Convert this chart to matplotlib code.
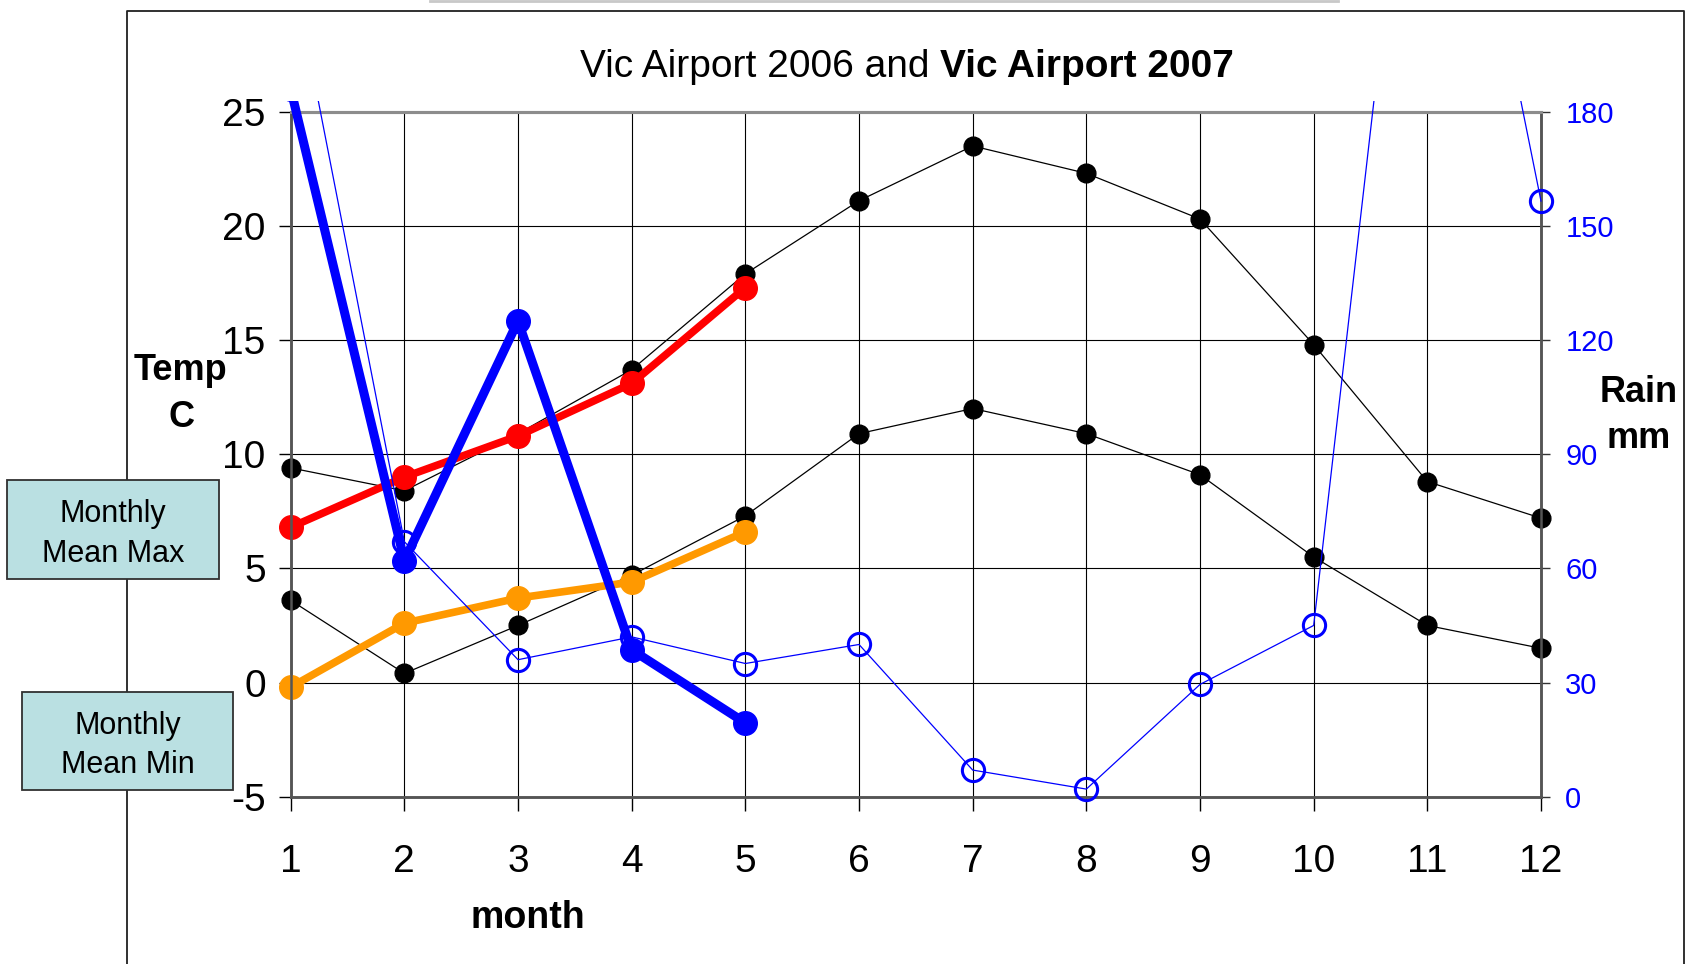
import matplotlib
matplotlib.use("Agg")
import matplotlib.pyplot as plt
from matplotlib.lines import Line2D
from matplotlib.patches import Rectangle

plt.rcParams['font.family'] = ['Liberation Sans', 'DejaVu Sans']
plt.rcParams['axes.unicode_minus'] = False

# data
months = [1, 2, 3, 4, 5, 6, 7, 8, 9, 10, 11, 12]
months_2007 = [1, 2, 3, 4, 5]
max_2006 = [9.4, 8.4, 10.9, 13.7, 17.9, 21.1, 23.5, 22.3, 20.3, 14.8, 8.8, 7.2]
min_2006 = [3.6, 0.4, 2.5, 4.7, 7.3, 10.9, 12.0, 10.9, 9.1, 5.5, 2.5, 1.5]
max_2007 = [6.8, 9.0, 10.8, 13.1, 17.3]
min_2007 = [-0.2, 2.6, 3.7, 4.4, 6.6]
rain_2006 = [220, 67, 36, 42, 35, 40, 7, 2, 29.5, 45, 305, 156.5]
rain_2007 = [186, 62, 125, 38.6, 19.4]

temp_ticks = [-5, 0, 5, 10, 15, 20, 25]
rain_ticks = [0, 30, 60, 90, 120, 150, 180]

W, H = 1691, 964


def fx(x):
    return x / W


def fy(y):
    return 1 - y / H


fig = plt.figure(figsize=(W / 100, H / 100), dpi=100)

# outer chart frame (goes off the bottom of the picture)
fig.add_artist(Line2D([fx(127), fx(127), fx(1684), fx(1684)],
                      [fy(970), fy(10.5), fy(10.5), fy(970)],
                      transform=fig.transFigure, color='#202020', lw=1.3, zorder=0))
fig.add_artist(Line2D([fx(430), fx(1338)], [fy(1), fy(1)],
                      transform=fig.transFigure, color='#c8c8c8', lw=2, zorder=0))

ax = fig.add_axes([fx(290.7), fy(796.7), (1541 - 290.7) / W, (796.7 - 111.7) / H])
ax.set_xlim(1, 12)
ax.set_ylim(-5, 25)
ax2 = ax.twinx()
ax2.set_ylim(0, 180)

ax.set_xticks(months)
ax.set_yticks(temp_ticks)
ax2.set_yticks(rain_ticks)
ax.grid(True, color='black', lw=0.8)
ax.set_axisbelow(True)

ax.tick_params(axis='x', direction='out', length=10, width=1, labelsize=28, pad=24, colors='black')
ax.tick_params(axis='y', direction='out', length=9, width=1, labelsize=28, pad=9, colors='black')
ax2.tick_params(axis='y', direction='out', length=6.5, width=1, labelsize=21, pad=11,
                colors='#333333', labelcolor='#0000ff')

for a in (ax, ax2):
    for side in ('left', 'right', 'bottom'):
        a.spines[side].set_color('#555555')
        a.spines[side].set_linewidth(1.8)
    a.spines['top'].set_color('#8c8c8c')
    a.spines['top'].set_linewidth(2.2)

# lines may run a little above the plot area, like the original
clip1 = Rectangle((-0.03, -0.03), 1.06, 1.046, transform=ax.transAxes)
clip2 = Rectangle((-0.03, -0.03), 1.06, 1.046, transform=ax2.transAxes)

lines = []
lines += ax.plot(months, max_2006, color='black', lw=0.9, marker='o', ms=13.5, zorder=3)
lines += ax.plot(months, min_2006, color='black', lw=0.9, marker='o', ms=13.5, zorder=3)
lines += ax.plot(months_2007, max_2007, color='#ff0000', lw=5.5, marker='o', ms=17, zorder=4)
lines += ax.plot(months_2007, min_2007, color='#ff9900', lw=5.5, marker='o', ms=17, zorder=4)
for ln in lines:
    ln.set_clip_path(clip1)

rl = []
rl += ax2.plot(months, rain_2006, color='#0000ff', lw=0.9, marker='o', ms=16,
               mfc='none', mec='#0000ff', mew=2.2, zorder=3)
rl += ax2.plot(months_2007, rain_2007, color='#0000ff', lw=6.5, marker='o', ms=17, zorder=4)
for ln in rl:
    ln.set_clip_path(clip2)

# title: regular part followed by bold part
t1 = fig.text(0, fy(77), 'Vic Airport 2006 and ', fontsize=28, va='baseline', ha='left')
t2 = fig.text(0, fy(77), 'Vic Airport 2007', fontsize=28, fontweight='bold', va='baseline', ha='left')
r = fig.canvas.get_renderer()
w1 = t1.get_window_extent(r).width
w2 = t2.get_window_extent(r).width
x0 = 907 - (w1 + w2) / 2
t1.set_x(fx(x0))
t2.set_x(fx(x0 + w1))

# axis titles
fig.text(fx(528), fy(928), 'month', fontsize=27, fontweight='bold', ha='center', va='baseline')
fig.text(fx(180), fy(380), 'Temp', fontsize=26, fontweight='bold', ha='center', va='baseline')
fig.text(fx(182), fy(427), 'C', fontsize=26, fontweight='bold', ha='center', va='baseline')
fig.text(fx(1639), fy(402), 'Rain', fontsize=26, fontweight='bold', ha='center', va='baseline')
fig.text(fx(1639), fy(448), 'mm', fontsize=26, fontweight='bold', ha='center', va='baseline')

# label boxes
boxes = [((7, 480, 219, 579), ['Monthly', 'Mean Max'], (522, 562)),
         ((22, 692, 233, 790), ['Monthly', 'Mean Min'], (734, 773))]
for (x1, y1, x2, y2), words, bases in boxes:
    fig.add_artist(Rectangle((fx(x1), fy(y2)), (x2 - x1) / W, (y2 - y1) / H,
                             transform=fig.transFigure, facecolor='#bae0e2',
                             edgecolor='#303030', lw=1.3, zorder=5))
    cx = (x1 + x2) / 2
    for word, b in zip(words, bases):
        fig.text(fx(cx), fy(b), word, fontsize=22, ha='center', va='baseline', zorder=6)

fig.savefig('out.png', dpi=100)
